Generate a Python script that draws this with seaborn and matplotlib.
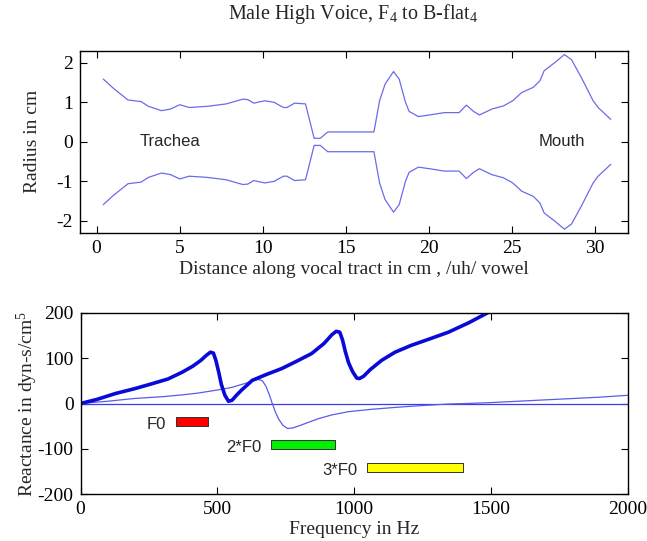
import matplotlib
matplotlib.use("Agg")
import matplotlib.pyplot as plt
import seaborn as sns
import numpy as np
import pandas as pd

# ---------------- data ----------------
# vocal tract radius profile (cm), upper wall; lower wall is its mirror
tract_x = [0.40, 1.0, 1.89, 2.67, 3.12, 3.90, 4.45, 5.01, 5.57, 6.68, 7.80, 8.80, 9.10,
           9.47, 10.13, 10.69, 11.25, 11.47, 11.92, 12.58, 13.10, 13.47, 13.92, 16.70,
           17.04, 17.37, 17.88, 18.22, 18.60, 18.82, 19.38, 20.04, 20.94, 21.83, 22.27,
           22.70, 23.05, 23.80, 24.50, 25.06, 25.60, 26.30, 26.70, 26.95, 27.60, 28.17,
           28.60, 29.20, 29.90, 30.20, 30.96]
tract_r = [1.59, 1.36, 1.06, 1.02, 0.90, 0.79, 0.83, 0.94, 0.87, 0.90, 0.96, 1.08, 1.07,
           0.98, 1.04, 1.00, 0.87, 0.87, 0.98, 0.96, 0.09, 0.09, 0.25, 0.25,
           1.04, 1.46, 1.78, 1.59, 1.00, 0.77, 0.64, 0.68, 0.74, 0.74, 0.93,
           0.77, 0.68, 0.83, 0.91, 1.04, 1.25, 1.38, 1.55, 1.80, 2.01, 2.21,
           2.08, 1.62, 1.04, 0.87, 0.57]

# input reactance of vocal tract (thick) and of subglottal tract (thin)
freq_thick = [0, 60, 128, 200, 264, 320, 372, 410, 440, 460, 475, 486, 495, 505, 515, 528,
              541, 554, 570, 588, 610, 628, 680, 736, 790, 845, 890, 920, 935, 948, 958,
              968, 980, 995, 1010, 1020, 1035, 1060, 1101, 1150, 1209, 1280, 1345, 1420,
              1486, 1510]
react_thick = [0, 9, 22, 33, 44, 54, 69, 82, 95, 106, 113, 111, 95, 70, 42, 18,
               5, 7, 18, 29, 41, 51, 64, 77, 93, 110, 132, 152, 159, 157, 140,
               115, 90, 70, 56, 55, 60, 75, 95, 113, 128, 143, 157, 178,
               199, 206]
freq_thin = [0, 100, 196, 300, 372, 430, 493, 550, 601, 630, 650, 665, 678, 690, 700, 712,
             725, 740, 757, 775, 800, 840, 872, 920, 980, 1060, 1142, 1210, 1277, 1350,
             1412, 1500, 1600, 1682, 1800, 1900, 2000]
react_thin = [0, 5, 11, 15, 19, 23, 29, 35, 44, 50, 53, 50, 38, 20, 2, -18,
              -35, -48, -55, -54, -49, -40, -33, -25, -18, -13, -9, -6, -3.5, -1,
              0, 2, 5, 7.5, 11, 14, 18]

# harmonic ranges (F4 to B-flat4)
harm_labels = ["F0", "2*F0", "3*F0"]
harm_lo = [349, 698, 1047]
harm_hi = [466, 932, 1398]
harm_ybot = [-49, -100, -150]
harm_ytop = [-29, -80, -130]
harm_colors = ["#ff0000", "#00ee00", "#ffff00"]

# ---------------- style ----------------
sns.set_theme(style="ticks")
plt.rcParams["font.family"] = ["Liberation Serif", "DejaVu Serif"]
plt.rcParams["mathtext.fontset"] = "custom"
plt.rcParams["mathtext.rm"] = "Liberation Serif"
plt.rcParams["mathtext.default"] = "regular"
plt.rcParams["axes.unicode_minus"] = False

W, H = 647, 541
fig = plt.figure(figsize=(W / 100, H / 100), dpi=100)
fig.patch.set_facecolor("white")

def rect(l, t, r, b):
    return [l / W, 1 - b / H, (r - l) / W, (b - t) / H]

ax1 = fig.add_axes(rect(80, 51, 628, 232.7))
ax2 = fig.add_axes(rect(80.5, 312.7, 627.5, 494.3))

for ax in (ax1, ax2):
    ax.set_facecolor("white")
    for s in ax.spines.values():
        s.set_visible(True)
        s.set_color("black")
        s.set_linewidth(1.0)
    ax.tick_params(direction="in", top=True, right=True, length=5, width=0.8,
                   labelsize=14, colors="black", pad=5)

# ---------------- top panel ----------------
df_t = pd.DataFrame({"x": tract_x, "r": tract_r})
df_t["neg"] = -df_t["r"]
sns.lineplot(data=df_t, x="x", y="r", ax=ax1, color="#6b6bea", lw=0.9,
             sort=False, estimator=None)
sns.lineplot(data=df_t, x="x", y="neg", ax=ax1, color="#6b6bea", lw=0.9,
             sort=False, estimator=None)
ax1.set_xlim(-1, 32)
ax1.set_ylim(-2.3, 2.3)
ax1.set_xticks([0, 5, 10, 15, 20, 25, 30])
ax1.set_yticks([-2, -1, 0, 1, 2])
ax1.set_xlabel("Distance along vocal tract in cm , /uh/ vowel", fontsize=14, labelpad=3)
ax1.set_ylabel("Radius in cm", fontsize=14, labelpad=11.5)
ax1.text(4.4, 0, "Trachea", family=["Liberation Sans", "DejaVu Sans"], fontsize=12,
         ha="center", va="center")
ax1.text(28.0, 0, "Mouth", family=["Liberation Sans", "DejaVu Sans"], fontsize=12,
         ha="center", va="center")

fig.text(353 / W, 1 - 19 / H, "Male High Voice, F$_4$ to B-flat$_4$", fontsize=14.5,
         ha="center", va="baseline")

# ---------------- bottom panel ----------------
ax2.axhline(0, color="#3a3aee", lw=0.9)
df_a = pd.DataFrame({"f": freq_thick, "X": react_thick})
df_b = pd.DataFrame({"f": freq_thin, "X": react_thin})
sns.lineplot(data=df_b, x="f", y="X", ax=ax2, color="#5b5bea", lw=0.9,
             sort=False, estimator=None)
sns.lineplot(data=df_a, x="f", y="X", ax=ax2, color="#0a0ad8", lw=2.6,
             sort=False, estimator=None)
for lab, lo, hi, yb, yt, c in zip(harm_labels, harm_lo, harm_hi, harm_ybot, harm_ytop,
                                  harm_colors):
    ax2.fill_between([lo, hi], [yb, yb], [yt, yt], facecolor=c, edgecolor="#333333",
                     lw=0.7)
    ax2.text(lo - 35, yb + 3, lab, family=["Liberation Sans", "DejaVu Sans"],
             fontsize=12, ha="right", va="center")
ax2.set_xlim(0, 2000)
ax2.set_ylim(-200, 200)
ax2.set_xticks([0, 500, 1000, 1500, 2000])
ax2.set_yticks([-200, -100, 0, 100, 200])
ax2.set_xlabel("Frequency in Hz", fontsize=14, labelpad=2)
ax2.set_ylabel("Reactance in dyn-s/cm$^5$", fontsize=14, labelpad=-2)

fig.savefig("out.png", dpi=100, facecolor="white")
